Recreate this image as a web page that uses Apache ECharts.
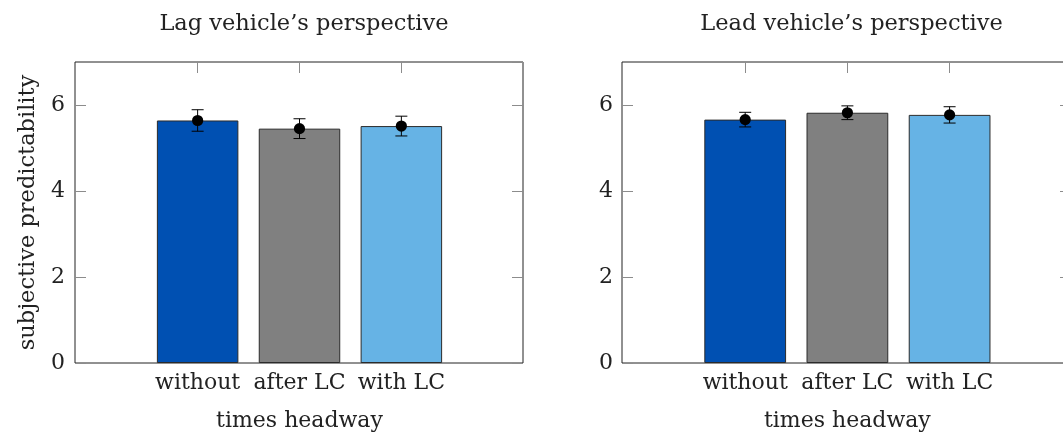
<!DOCTYPE html>
<html>
<head>
<meta charset="utf-8">
<script src="https://cdn.jsdelivr.net/npm/echarts@6/dist/echarts.min.js"></script>
<style>
html,body{margin:0;padding:0;background:#fff;}
#chart{width:1063px;height:434px;}
</style>
</head>
<body>
<div id="chart"></div>
<script>
const categories = ['without', 'after LC', 'with LC'];
const lagMeans = [5.64, 5.45, 5.51];
const lagErrors = [0.25, 0.23, 0.23];
const leadMeans = [5.66, 5.82, 5.77];
const leadErrors = [0.17, 0.16, 0.19];
const barColors = ['#0050b2', '#808080', '#66b3e5'];
const panelTitles = ['Lag vehicle’s perspective', 'Lead vehicle’s perspective'];
const yAxisTitle = 'subjective predictability';
const xAxisTitle = 'times headway';

const FONT = 'DejaVu Serif';
const FS = 22;
const TXT = '#222';

const chart = echarts.init(document.getElementById('chart'));

function outerY(grid, withName, labelMargin) {
  return [{
    gridIndex: grid, type: 'value', min: 0, max: 7, interval: 2, position: 'left',
    axisLine: {show: false},
    axisTick: {show: true, inside: true, length: 11, lineStyle: {color: '#8c8c8c'}},
    axisLabel: {margin: labelMargin, fontFamily: FONT, fontSize: FS, color: TXT, showMaxLabel: false},
    splitLine: {show: false},
    name: withName ? yAxisTitle : '', nameLocation: 'middle', nameGap: 35, nameRotate: 90,
    nameMoveOverlap: false,
    nameTextStyle: {fontFamily: FONT, fontSize: 22.5, color: TXT}
  }, {
    gridIndex: grid, type: 'value', min: 0, max: 7, interval: 2, position: 'right',
    axisLine: {show: false},
    axisTick: {show: true, inside: true, length: 11, lineStyle: {color: '#8c8c8c'}},
    axisLabel: {show: false}, splitLine: {show: false}
  }];
}
function innerY(grid) {
  return {gridIndex: grid, type: 'value', min: 0, max: 7, show: false};
}
function hiddenX(grid) {
  return {gridIndex: grid, type: 'value', min: 0, max: 1, show: false};
}
function innerX(grid) {
  return [{
    gridIndex: grid, type: 'category', data: categories, position: 'bottom',
    axisLine: {show: false},
    axisTick: {show: true, inside: true, alignWithLabel: true, length: 11, lineStyle: {color: '#8c8c8c'}},
    axisLabel: {interval: 0, margin: 9, fontFamily: FONT, fontSize: FS, color: TXT},
    name: xAxisTitle, nameLocation: 'middle', nameGap: 47, nameMoveOverlap: false,
    nameTextStyle: {fontFamily: FONT, fontSize: FS, color: TXT}
  }, {
    gridIndex: grid, type: 'category', data: categories, position: 'top',
    axisLine: {show: false},
    axisTick: {show: true, inside: true, alignWithLabel: true, length: 11, lineStyle: {color: '#8c8c8c'}},
    axisLabel: {show: false}
  }];
}

function barSeries(xIdx, yIdx, means) {
  return {
    type: 'bar', xAxisIndex: xIdx, yAxisIndex: yIdx, barWidth: '80%',
    data: means.map((v, i) => ({value: v, itemStyle: {color: barColors[i], borderColor: '#2b2b2b', borderWidth: 1}})),
    z: 2
  };
}
function errSeries(xIdx, yIdx, means, errs) {
  return {
    type: 'custom', xAxisIndex: xIdx, yAxisIndex: yIdx, z: 5,
    data: means.map((v, i) => [i, v, errs[i]]),
    renderItem: function (params, api) {
      const x = api.value(0), m = api.value(1), e = api.value(2);
      const hi = api.coord([x, m + e]);
      const lo = api.coord([x, m - e]);
      const c = api.coord([x, m]);
      const cap = 6;
      const st = {stroke: '#000', lineWidth: 1};
      return {
        type: 'group',
        children: [
          {type: 'line', shape: {x1: hi[0], y1: hi[1], x2: lo[0], y2: lo[1]}, style: st},
          {type: 'line', shape: {x1: hi[0] - cap, y1: hi[1], x2: hi[0] + cap, y2: hi[1]}, style: st},
          {type: 'line', shape: {x1: lo[0] - cap, y1: lo[1], x2: lo[0] + cap, y2: lo[1]}, style: st},
          {type: 'circle', shape: {cx: c[0], cy: c[1], r: 5.6}, style: {fill: '#000'}}
        ]
      };
    }
  };
}

const TOP = 62, H = 301;
const gridBase = {containLabel: false, outerBoundsMode: 'none'};
const option = {
  animation: false,
  backgroundColor: '#fff',
  title: [
    {text: panelTitles[0], left: 299, top: 8, textAlign: 'center', textStyle: {fontFamily: FONT, fontSize: 22.5, fontWeight: 'normal', color: TXT}},
    {text: panelTitles[1], left: 846.5, top: 8, textAlign: 'center', textStyle: {fontFamily: FONT, fontSize: 22.5, fontWeight: 'normal', color: TXT}}
  ],
  grid: [
    Object.assign({left: 75, top: TOP, width: 448, height: H, show: true, borderColor: '#222', borderWidth: 1, backgroundColor: 'transparent'}, gridBase),
    Object.assign({left: 146.7, top: TOP, width: 305.6, height: H}, gridBase),
    Object.assign({left: 622, top: TOP, width: 449, height: H, show: true, borderColor: '#222', borderWidth: 1, backgroundColor: 'transparent'}, gridBase),
    Object.assign({left: 694.1, top: TOP, width: 306.6, height: H}, gridBase)
  ],
  xAxis: [hiddenX(0)].concat(innerX(1), [hiddenX(2)], innerX(3)),
  yAxis: outerY(0, true, 10).concat([innerY(1)], outerY(2, false, 9), [innerY(3)]),
  series: [
    barSeries(1, 2, lagMeans),
    errSeries(1, 2, lagMeans, lagErrors),
    barSeries(4, 5, leadMeans),
    errSeries(4, 5, leadMeans, leadErrors)
  ]
};
chart.setOption(option);
</script>
</body>
</html>
